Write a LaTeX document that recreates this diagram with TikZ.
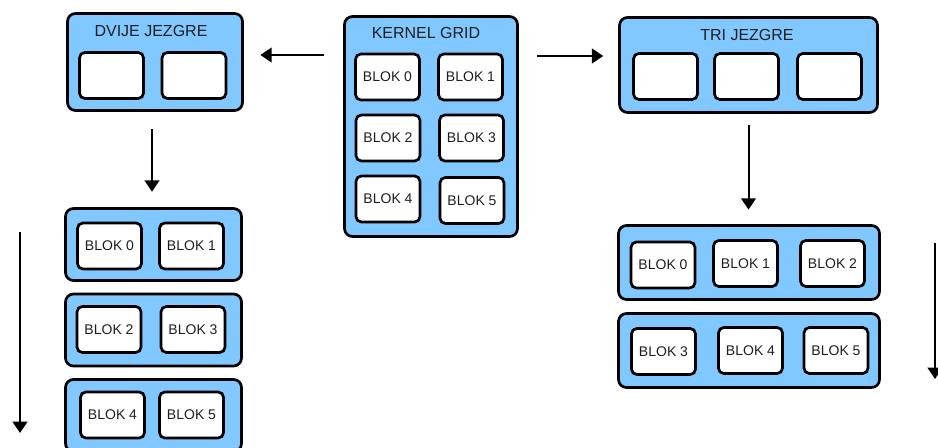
\documentclass[tikz,border=0pt]{standalone}
\usepackage{fontspec}
\setmainfont{Liberation Sans}
\usetikzlibrary{arrows.meta}

\definecolor{coreblue}{RGB}{128,200,255}
\definecolor{txt}{RGB}{30,30,30}

\tikzset{
  core/.style={draw, line width=2pt, rounded corners=6pt, fill=coreblue, inner sep=0pt},
  blok/.style={draw, line width=2pt, rounded corners=4pt, fill=white, inner sep=0pt,
    minimum width=48pt, minimum height=34.5pt, font=\fontsize{10.5}{12}\selectfont, text=txt},
  naslov/.style={font=\fontsize{12}{14}\selectfont, text=txt, inner sep=0pt},
  arr/.style={-{Triangle[width=11pt,length=8.5pt]}, line width=1.5pt},
}

\begin{document}
\begin{tikzpicture}[x=0.75pt, y=-0.75pt]
\useasboundingbox (0,0) rectangle (938,448);
\clip (0,0) rectangle (938,448);
%% kernel grid
  \node (grid) at (431,126.5) [core, minimum width=129.75pt, minimum height=165pt] {};
  \node at (426,33) [naslov] {KERNEL GRID};
  \node (k0) at (387.5,77) [blok] {BLOK 0};
  \node (k1) at (470.5,77) [blok] {BLOK 1};
  \node (k2) at (388,138) [blok] {BLOK 2};
  \node (k3) at (471.5,138) [blok] {BLOK 3};
  \node (k4) at (388,199) [blok] {BLOK 4};
  \node (k5) at (472,200.5) [blok] {BLOK 5};
%% dvije jezgre
  \node (dvije) at (155,62) [core, minimum width=131.25pt, minimum height=72.75pt] {};
  \node at (151,31) [naslov] {DVIJE JEZGRE};
  \node (d1) at (111.5,75.5) [blok] {};
  \node (d2) at (194,75.5) [blok] {};
  \node (r1) at (153.5,244.5) [core, minimum width=132pt, minimum height=54pt] {};
  \node (r2) at (153.5,330) [core, minimum width=132pt, minimum height=54pt] {};
  \node (r3) at (153.5,415.5) [core, minimum width=132pt, minimum height=54pt] {};
  \node (b0) at (109.5,246) [blok] {BLOK 0};
  \node (b1) at (191.5,246) [blok] {BLOK 1};
  \node (b2) at (109,329.5) [blok] {BLOK 2};
  \node (b3) at (193,329.5) [blok] {BLOK 3};
  \node (b4) at (112.5,415) [blok] {BLOK 4};
  \node (b5) at (191.5,415) [blok] {BLOK 5};
%% tri jezgre
  \node (tri) at (748.5,65) [core, minimum width=193.5pt, minimum height=71.25pt] {};
  \node at (747,35) [naslov] {TRI JEZGRE};
  \node (t1) at (665.5,76.5) [blok] {};
  \node (t2) at (746.5,76.5) [blok] {};
  \node (t3) at (829.5,76.5) [blok] {};
  \node (s1) at (749,262.5) [core, minimum width=195.75pt, minimum height=55.5pt] {};
  \node (s2) at (749,350.5) [core, minimum width=195.75pt, minimum height=55.5pt] {};
  \node (c0) at (663,265) [blok] {BLOK 0};
  \node (c1) at (745.5,263.5) [blok] {BLOK 1};
  \node (c2) at (832.5,263.5) [blok] {BLOK 2};
  \node (c3) at (663.5,351.5) [blok] {BLOK 3};
  \node (c4) at (750.5,350.5) [blok] {BLOK 4};
  \node (c5) at (836,350.5) [blok] {BLOK 5};
%% strelice
  \coordinate (la) at (20,232);
  \coordinate (lb) at (20,433);
  \coordinate (ra) at (935,243);
  \coordinate (rb) at (935,379);
  \draw [arr, shorten <=14.6pt, shorten >=12.4pt] (grid.west |- 0,55) -- (dvije.east |- 0,55);
  \draw [arr, shorten <=13.5pt, shorten >=11.2pt] (grid.east |- 0,56) -- (tri.west |- 0,56);
  \draw [arr, shorten <=13pt, shorten >=11.6pt] (dvije.south -| 152,0) -- (r1.north -| 152,0);
  \draw [arr, shorten <=8.6pt, shorten >=10.9pt] (tri.south) -- (tri.south |- s1.north);
  \draw [arr] (la) -- (lb);
  \draw [arr] (ra) -- (rb);
%
\end{tikzpicture}
\end{document}
